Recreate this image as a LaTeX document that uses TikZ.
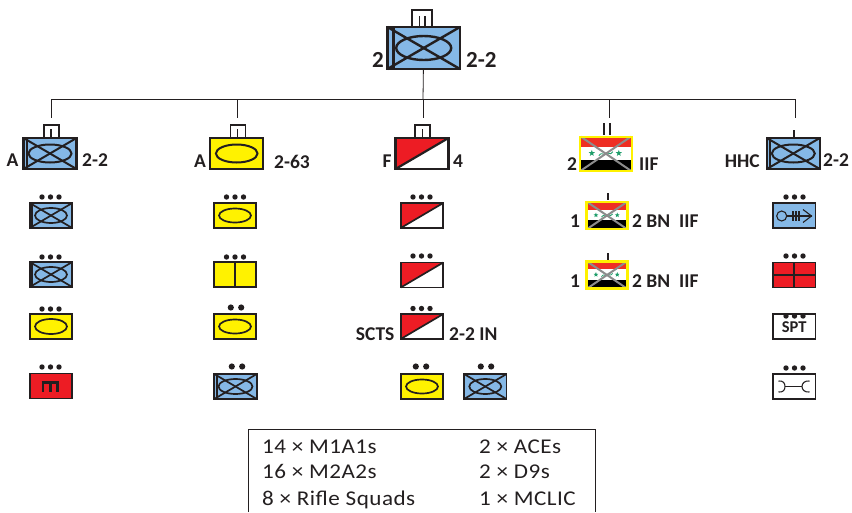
\documentclass[tikz,border=0pt]{standalone}
\usepackage{fontspec}
\setmainfont{Carlito}
\usetikzlibrary{calc,shapes.geometric}
\definecolor{symline}{HTML}{231F20}
\definecolor{infblue}{HTML}{85B8E6}
\definecolor{armyellow}{HTML}{FFF200}
\definecolor{redfill}{HTML}{ED1C24}
\definecolor{flagred}{HTML}{EE2F24}
\definecolor{flaggreen}{HTML}{1E9E6A}
\tikzset{
	unit/.style={draw=symline, line width=1.7pt, inner sep=0pt, outer sep=0pt, minimum width=42.5pt, minimum height=25pt},
	bigunit/.style={unit, line width=2.2pt, minimum width=53pt, minimum height=31pt},
	lab/.style={inner sep=0pt, text=symline, font=\fontsize{19.5}{19.5}\selectfont\bfseries},
	tally/.style={inner sep=0pt, anchor=base west, text=symline, font=\fontsize{21}{21}\selectfont\addfontfeature{FakeStretch=1.1,LetterSpace=2.4}},
	wire/.style={line width=0.8pt, color=symline},
	flagframe/.style={draw=armyellow, line width=2.4pt, inner sep=0pt, outer sep=0pt, minimum width=52pt, minimum height=34pt, transform shape},
	flagstar/.style={star, star points=5, star point ratio=2.4, fill=flaggreen, inner sep=0pt, minimum size=6.5pt, transform shape}
}
\def\dotthree(#1,#2){\fill[symline] (#1-8.5,#2) circle (2.7); \fill[symline] (#1,#2) circle (2.7); \fill[symline] (#1+8.5,#2) circle (2.7);}
\def\dottwo(#1,#2){\fill[symline] (#1-5.2,#2) circle (3.1); \fill[symline] (#1+5.2,#2) circle (3.1);}
\def\mechsym[#1](#2)(#3:#4:#5){\draw[line width=#1, color=symline] ($(#2.north west)+(#5,0)$) -- ($(#2.south west)+(#5,0)$); \draw[line width=#1, color=symline] (#2) ellipse (#3 and #4); \draw[line width=#1, color=symline] (#2.north west) -- (#2.south east); \draw[line width=#1, color=symline] (#2.south west) -- (#2.north east);}
\def\scoutslash[#1](#2){\fill[redfill] (#2.north west) -- (#2.north east) -- (#2.south west) -- cycle; \draw[line width=#1, color=symline] (#2.south west) -- (#2.north east); \draw[line width=#1, color=symline] (#2.north west) rectangle (#2.south east);}
\def\iraqflag(#1)(#2)(#3){\begin{scope}[shift={(#1)}, scale=#3]
		\fill[flagred] (-26,-17) rectangle (26,-7);
		\fill[white] (-26,-7) rectangle (26,6);
		\fill[black] (-26,6) rectangle (26,17);
		\node[flagstar] (#2a) at (-14,-0.5) {};
		\node[flagstar] (#2b) at (13,-0.5) {};
		\draw[line width=0.8pt, color=flaggreen] (-7,2) .. controls (-4,-3) and (-2,3) .. (0,0) .. controls (2,-3) and (4,3) .. (7,-2);
		\draw[line width=2pt, color=black!45] (-25,-17) -- (25,17);
		\draw[line width=2pt, color=black!45] (-25,17) -- (25,-17);
		\node[flagframe] (#2) at (0,0) {};
	\end{scope}}
\begin{document}
\begin{tikzpicture}[x=1pt, y=-1pt]
		\useasboundingbox (0,0) rectangle (852,512);
		%%%%% START %%%%%
		
		\coordinate (busA) at (51,99);
		\coordinate (busB) at (237,99);
		\coordinate (busC) at (423,99);
		\coordinate (busD) at (609,99);
		\coordinate (busE) at (795,99);
		\coordinate (dropA) at (51,118);
		\coordinate (dropB) at (237,118);
		\coordinate (dropC) at (423,118);
		\coordinate (dropD) at (609,118);
		\coordinate (dropE) at (795,118);
		
		\node[draw=symline, line width=2pt, inner sep=0pt, outer sep=0pt, minimum width=20pt, minimum height=17pt] (cmdech) at (422,18.5) {};
		\draw[line width=1.6pt, color=symline] (419.5,16) -- (419.5,27);
		\draw[line width=1.6pt, color=symline] (425,16) -- (425,27);
		\node[bigunit, line width=2.8pt, fill=infblue, minimum width=72.5pt, minimum height=42pt] (cmd) at (423.7,48) {};
		\mechsym[2.4pt](cmd)(27.5:12:6);
		\node[lab, font=\fontsize{23}{23}\selectfont\bfseries] (cmdl) at (378,60) {2};
		\node[lab, font=\fontsize{23}{23}\selectfont\bfseries, anchor=west] (cmdr) at (466,60) {2-2};
		
		\draw[wire] (cmd) -- (busC);
		\draw[wire] (busA) -- (busE);
		\draw[wire] (busA) -- (dropA);
		\draw[wire] (busB) -- (dropB);
		\draw[wire] (busC) -- (dropC);
		\draw[wire] (busD) -- (dropD);
		\draw[wire] (busE) -- (dropE);
		
		% first column
		\node[draw=symline, line width=1.7pt, inner sep=0pt, outer sep=0pt, minimum width=15pt, minimum height=13pt] (aech) at (51.5,131.5) {};
		\draw[wire, line width=1.2pt] (51,129) -- (51,138);
		\node[bigunit, fill=infblue] (aco) at (50,153.5) {};
		\mechsym[2pt](aco)(21.5:9:3.5);
		\node[lab] (acol) at (12.5,160) {A};
		\node[lab, anchor=west] (acor) at (82,160) {2-2};
		
		\dotthree(50.5,197);
		\node[unit, fill=infblue] (a1) at (51,215.5) {};
		\mechsym[1.7pt](a1)(16:7.5:2.5);
		\dotthree(50.5,257);
		\node[unit, fill=infblue] (a2) at (51,274.5) {};
		\mechsym[1.7pt](a2)(16:7.5:2.5);
		\dotthree(50.5,309);
		\node[unit, fill=armyellow] (a3) at (51,326.5) {};
		\draw[line width=1.7pt, color=symline] (a3) ellipse (16 and 7.5);
		\dotthree(50.5,367);
		\node[unit, fill=redfill] (a4) at (51,386) {};
		\draw[line width=3pt, color=symline] (41.7,382.2) -- (59,382.2);
		\draw[line width=2.6pt, color=symline] (43,382) -- (43,391.7);
		\draw[line width=2.6pt, color=symline] (50.3,382) -- (50.3,391.7);
		\draw[line width=2.6pt, color=symline] (57.7,382) -- (57.7,391.7);
		
		% second column
		\node[draw=symline, line width=1.7pt, inner sep=0pt, outer sep=0pt, minimum width=15pt, minimum height=13pt] (bech) at (238,131.5) {};
		\draw[wire, line width=1.2pt] (237.5,129) -- (237.5,138);
		\node[bigunit, fill=armyellow] (bco) at (236.7,153.5) {};
		\draw[line width=2pt, color=symline] (bco) ellipse (20.8 and 9);
		\node[lab] (bcol) at (200,161.5) {A};
		\node[lab, anchor=west] (bcor) at (274,161.5) {2-63};
		
		\dotthree(235,197);
		\node[unit, fill=armyellow] (b1) at (235,215.5) {};
		\draw[line width=1.7pt, color=symline] (b1) ellipse (16 and 7);
		\dotthree(235,257);
		\node[unit, fill=armyellow] (b2) at (235,274.5) {};
		\draw[line width=1.7pt, color=symline] (b2.north) -- (b2.south);
		\dottwo(236,307.5);
		\node[unit, fill=armyellow] (b3) at (235,326.5) {};
		\draw[line width=1.7pt, color=symline] (b3) ellipse (16 and 7);
		\dottwo(237,366.5);
		\node[unit, fill=infblue] (b4) at (235.5,386.5) {};
		\mechsym[1.7pt](b4)(17:7.5:2.5);
		
		% third column
		\node[draw=symline, line width=1.7pt, inner sep=0pt, outer sep=0pt, minimum width=15pt, minimum height=13pt] (cech) at (422.8,131.5) {};
		\draw[wire, line width=1.2pt] (422.5,129) -- (422.5,138);
		\node[bigunit, fill=white] (cco) at (422,153.5) {};
		\scoutslash[2.2pt](cco);
		\node[lab] (ccol) at (387,161.5) {F};
		\node[lab] (ccor) at (458,161.5) {4};
		
		\dotthree(421.5,197);
		\node[unit, fill=white] (c1) at (422,215.5) {};
		\scoutslash[1.7pt](c1);
		\dotthree(421.5,256);
		\node[unit, fill=white] (c2) at (422,275) {};
		\scoutslash[1.7pt](c2);
		\dotthree(421.5,308.5);
		\node[unit, fill=white] (c3) at (422,326.5) {};
		\scoutslash[1.7pt](c3);
		\node[lab, anchor=east] (c3l) at (394.5,334) {SCTS};
		\node[lab, anchor=west] (c3r) at (449,334) {2-2 IN};
		\dottwo(421,366.5);
		\node[unit, fill=armyellow] (c4) at (422,386.5) {};
		\draw[line width=1.7pt, color=symline] (c4) ellipse (16 and 7);
		\dottwo(486,366.5);
		\node[unit, fill=infblue] (c5) at (485.3,386.5) {};
		\mechsym[1.7pt](c5)(16:7.5:0);
		
		% fourth column
		\draw[line width=1.8pt, color=symline] (604.3,123) -- (604.3,135);
		\draw[line width=1.8pt, color=symline] (610,123) -- (610,135);
		\iraqflag(605.8,153.7)(dco)(1);
		\node[lab] (dcol) at (572,164) {2};
		\node[lab, anchor=west] (dcor) at (639,164) {IIF};
		
		\draw[line width=1.2pt, color=symline] (608,193) -- (608,200);
		\iraqflag(607,215.5)(d1)(0.79);
		\node[lab] (d1l) at (575,221) {1};
		\node[lab, anchor=west] (d1r) at (632,221) {2 BN\ \ IIF};
		\draw[line width=1.2pt, color=symline] (608,253) -- (608,260);
		\iraqflag(607,275)(d2)(0.79);
		\node[lab] (d2l) at (575,281) {1};
		\node[lab, anchor=west] (d2r) at (632,281) {2 BN\ \ IIF};
		
		% fifth column
		\draw[wire, line width=1.2pt] (794,130) -- (794,138);
		\node[bigunit, fill=infblue] (eco) at (793.3,153.5) {};
		\mechsym[2pt](eco)(21.5:9:3.5);
		\node[lab, anchor=east] (ecol) at (760,161.5) {HHC};
		\node[lab, anchor=west] (ecor) at (823,160) {2-2};
		
		\dotthree(794.5,197);
		\node[unit, fill=infblue] (e1) at (794.2,215.5) {};
		\draw[line width=1.1pt, color=symline] (781.7,216) circle (5);
		\draw[line width=1.1pt, color=symline] (786.7,216) -- (811.5,216);
		\draw[line width=1.1pt, color=symline] (793,211) -- (793,221);
		\draw[line width=1.1pt, color=symline] (796,211) -- (796,221);
		\draw[line width=1.1pt, color=symline] (799,211) -- (799,221);
		\draw[line width=1.1pt, color=symline] (803,209.5) -- (811.5,216) -- (803,222.5);
		\dotthree(794.5,256);
		\node[unit, fill=redfill] (e2) at (794.2,275) {};
		\draw[line width=2.2pt, color=symline] (e2.north) -- (e2.south);
		\draw[line width=2.2pt, color=symline] (e2.west) -- (e2.east);
		\node[unit, fill=white] (e3) at (794.2,326.5) {};
		\dotthree(794.5,316);
		\node[lab, font=\fontsize{16.5}{16.5}\selectfont\bfseries] (e3t) at (794.2,327) {SPT};
		\dotthree(794.5,368);
		\node[unit, fill=white] (e4) at (794.2,386.5) {};
		\draw[line width=1.1pt, color=symline] (785,386.5) -- (802,386.5);
		\draw[line width=1.1pt, color=symline] (778.5,381) .. controls (783,380.5) and (785,383) .. (785,386.5) .. controls (785,390) and (783,392.5) .. (778.5,392);
		\draw[line width=1.1pt, color=symline] (809.5,381) .. controls (805,380.5) and (802,383) .. (802,386.5) .. controls (802,390) and (805,392.5) .. (809.5,392);
		
		% tally box
		\draw[line width=1pt, color=symline] (248.5,512) |- (595,429.5) -- (595,512);
		\node[tally] (t1) at (262,453) {14 × M1A1s};
		\node[tally] (t2) at (262,478) {16 × M2A2s};
		\node[tally] (t3) at (262,505) {8 × Rifle Squads};
		\node[tally] (t4) at (479,453) {2 × ACEs};
		\node[tally] (t5) at (479,478) {2 × D9s};
		\node[tally] (t6) at (479,505) {1 × MCLIC};
		
		%%%%% END %%%%%
	\end{tikzpicture}
\end{document}
